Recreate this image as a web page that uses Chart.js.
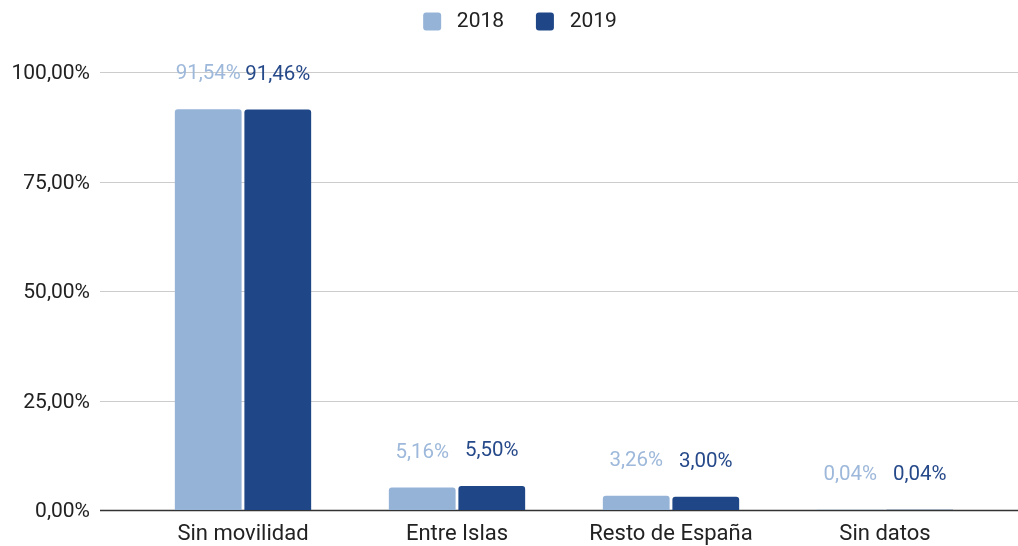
<!DOCTYPE html>
<html>
<head>
<meta charset="utf-8">
<script src="https://cdn.jsdelivr.net/npm/chart.js@4/dist/chart.umd.min.js"></script>
<style>
  html, body { margin: 0; padding: 0; background: #fff; overflow: hidden; }
  canvas { display: block; }
</style>
</head>
<body>
<canvas id="myChart" width="1018" height="546"></canvas>
<script>
// chart values
const categories = ['Sin movilidad', 'Entre Islas', 'Resto de España', 'Sin datos'];
const seriesNames = ['2018', '2019'];
const values2018 = [91.54, 5.16, 3.26, 0.04];
const values2019 = [91.46, 5.50, 3.00, 0.04];
const yTicks = [0, 25, 50, 75, 100];

const light = '#95b3d7';
const dark = '#1f4788';

function pct(v) {
  return v.toFixed(2).replace('.', ',') + '%';
}

// horizontal grid lines across the full width and the y labels, like the original
const gridPlugin = {
  id: 'wideGrid',
  beforeDatasetsDraw(chart) {
    const ctx = chart.ctx;
    const y = chart.scales.y;
    ctx.save();
    ctx.font = '21px Roboto';
    ctx.fillStyle = '#222222';
    ctx.textAlign = 'right';
    ctx.textBaseline = 'middle';
    yTicks.forEach(function (t) {
      const py = Math.round(y.getPixelForValue(t)) + 0.5;
      ctx.beginPath();
      ctx.strokeStyle = t === 0 ? '#333333' : '#cccccc';
      ctx.lineWidth = t === 0 ? 1.5 : 1;
      ctx.moveTo(100, py);
      ctx.lineTo(chart.width, py);
      ctx.stroke();
      ctx.fillText(pct(t), 90, py + 1);
    });
    ctx.restore();
  }
};

// value labels above each bar
const labelPlugin = {
  id: 'barLabels',
  afterDatasetsDraw(chart) {
    const ctx = chart.ctx;
    ctx.save();
    ctx.font = '20.5px Roboto';
    ctx.textAlign = 'center';
    ctx.textBaseline = 'middle';
    chart.data.datasets.forEach(function (ds, i) {
      const meta = chart.getDatasetMeta(i);
      meta.data.forEach(function (bar, j) {
        ctx.fillStyle = ds.labelColor;
        ctx.fillText(pct(ds.data[j]), bar.x, bar.y - 35);
      });
    });
    ctx.restore();
  }
};

new Chart(document.getElementById('myChart'), {
  type: 'bar',
  data: {
    labels: categories,
    datasets: [{
      label: seriesNames[0],
      data: values2018,
      backgroundColor: light,
      labelColor: '#9db8da',
      borderRadius: { topLeft: 3, topRight: 3 },
      borderSkipped: 'bottom',
      categoryPercentage: 0.65,
      barPercentage: 0.96
    }, {
      label: seriesNames[1],
      data: values2019,
      backgroundColor: dark,
      labelColor: '#26498a',
      borderRadius: { topLeft: 3, topRight: 3 },
      borderSkipped: 'bottom',
      categoryPercentage: 0.65,
      barPercentage: 0.96
    }]
  },
  options: {
    responsive: false,
    animation: false,
    devicePixelRatio: 1,
    layout: { padding: { left: 22, right: 0, top: 0, bottom: 0 } },
    plugins: {
      tooltip: { enabled: false },
      legend: {
        position: 'top',
        labels: {
          font: { family: 'Roboto', size: 21 },
          color: '#222222',
          boxWidth: 18,
          boxHeight: 18,
          useBorderRadius: true,
          borderRadius: 3,
          padding: 11,
          generateLabels: function (chart) {
            const items = Chart.defaults.plugins.legend.labels.generateLabels(chart);
            items.forEach(function (it, i) {
              it.text = ' ' + it.text + (i === 0 ? '    ' : '');
            });
            return items;
          }
        }
      },
      // empty spacer between legend and plot
      subtitle: {
        display: true,
        text: ' ',
        weight: 500,
        font: { size: 1 },
        padding: { top: 0, bottom: 29 }
      }
    },
    scales: {
      x: {
        afterFit: function (scale) { scale.height = 36; },
        grid: { display: false, drawTicks: false },
        border: { display: false },
        ticks: {
          font: { family: 'Roboto', size: 22 },
          color: '#222222',
          padding: 11
        }
      },
      y: {
        min: 0,
        max: 100,
        afterFit: function (scale) { scale.width = 114; },
        grid: { display: false, drawTicks: false },
        border: { display: false },
        ticks: { display: false }
      },
      // empty right-hand axis, only keeps room on the right
      yRight: {
        position: 'right',
        min: 0,
        max: 100,
        afterFit: function (scale) { scale.width = 26; },
        grid: { display: false, drawTicks: false },
        border: { display: false },
        ticks: { display: false }
      }
    }
  },
  plugins: [gridPlugin, labelPlugin]
});
</script>
</body>
</html>
